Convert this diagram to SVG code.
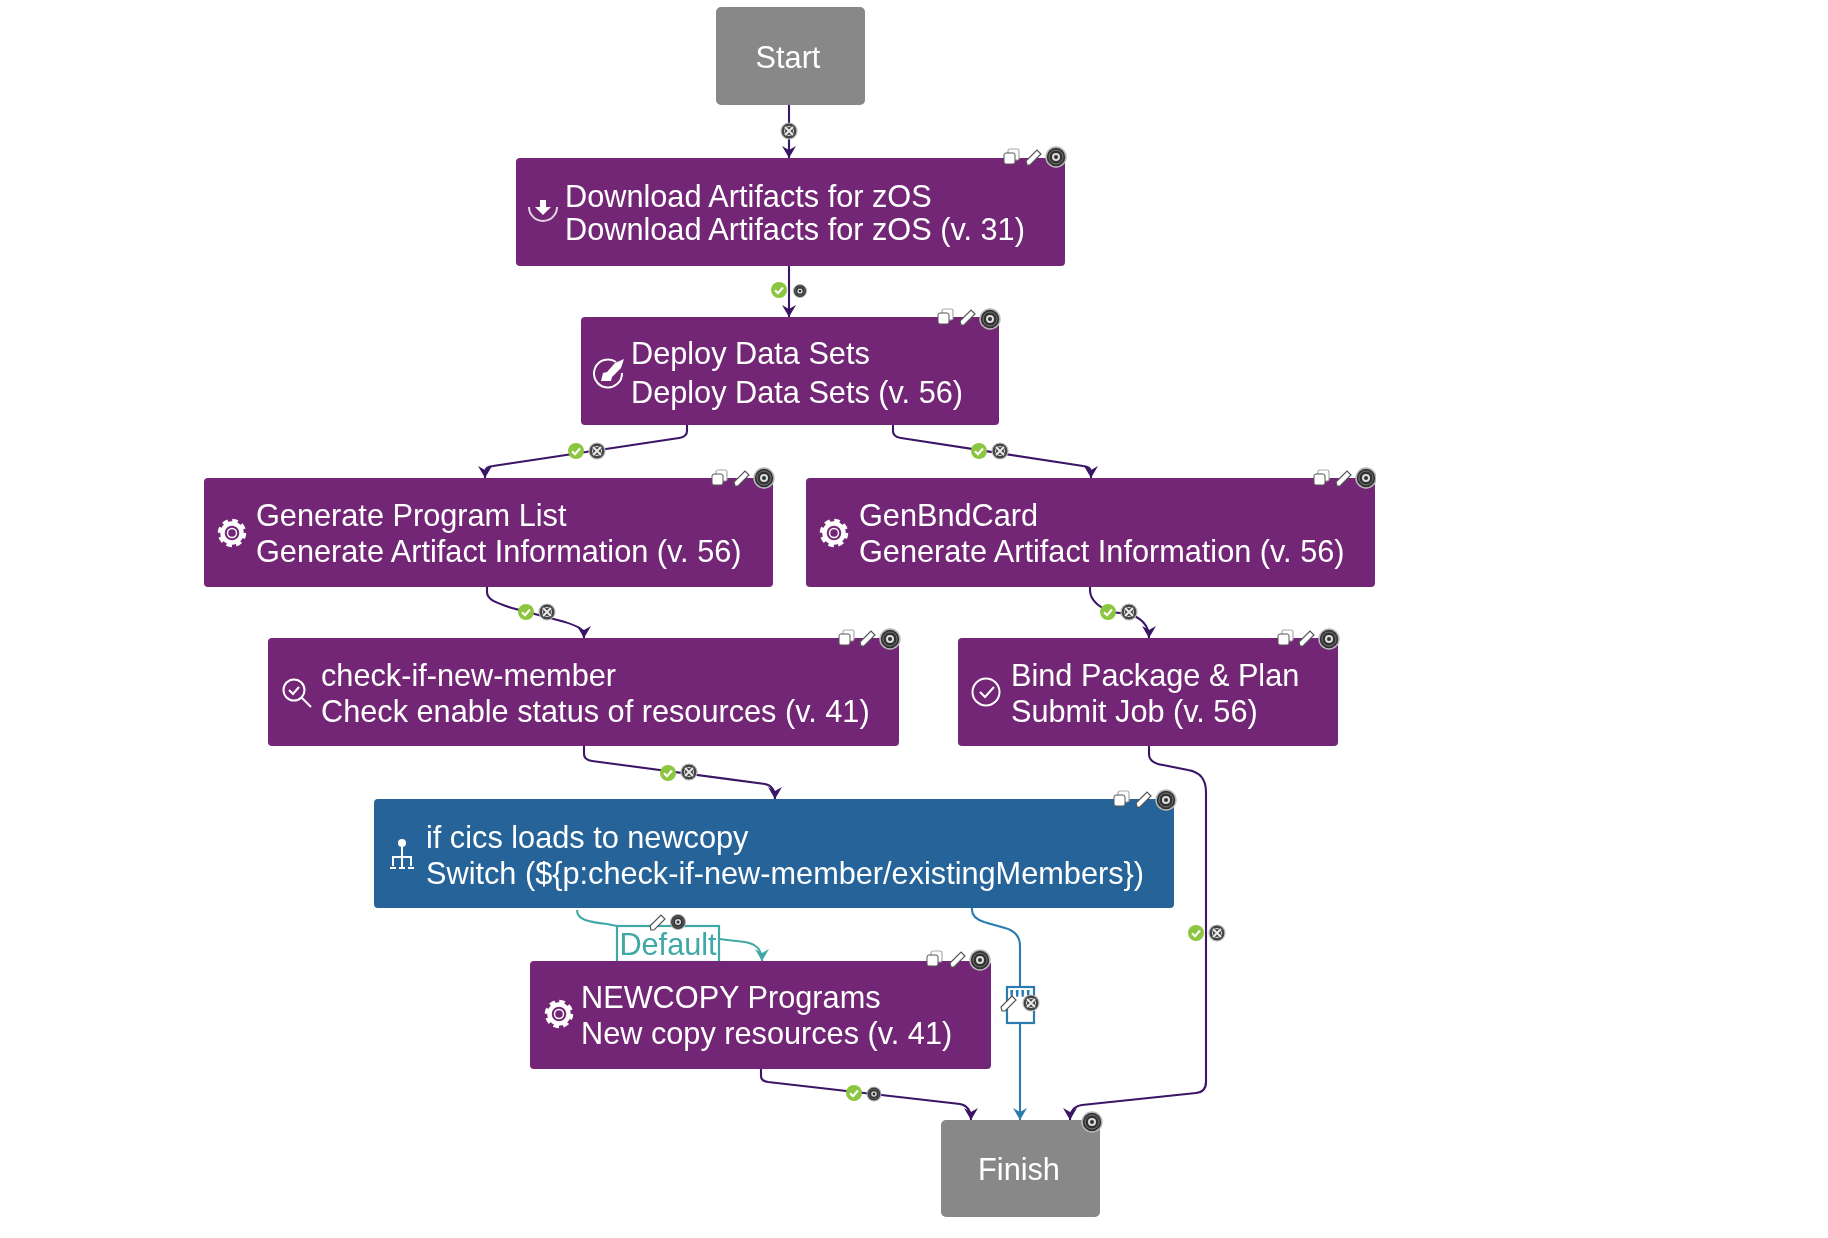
<svg xmlns="http://www.w3.org/2000/svg" width="1828" height="1238" viewBox="0 0 1828 1238">
<style>
text{font-family:"Liberation Sans",Arial,sans-serif;font-size:30.700px;fill:#fff}
.p{fill:#732775}.b{fill:#256398}.g{fill:#888}
.c{fill:none;stroke:#3a1566;stroke-width:2.1;marker-end:url(#ap)}
.cb{fill:none;stroke:#2c7bb0;stroke-width:2.1}
.ct{fill:none;stroke:#3fa9a5;stroke-width:2.1}
.lb{fill:#fff;stroke-width:2.2}
.ic{fill:none;stroke:#fff;stroke-width:2}
</style>
<defs>
<filter id="soft" x="0" y="0" width="1" height="1"><feGaussianBlur stdDeviation="0.55"/></filter>
<marker id="ap" markerUnits="userSpaceOnUse" markerWidth="16" markerHeight="18" refX="13" refY="9" orient="auto"><path d="M1 2L13 9L1 16L5 9Z" fill="#3a1566"/></marker>
<marker id="ab" markerUnits="userSpaceOnUse" markerWidth="16" markerHeight="18" refX="13" refY="9" orient="auto"><path d="M1 2L13 9L1 16L5 9Z" fill="#2c7bb0"/></marker>
<marker id="at" markerUnits="userSpaceOnUse" markerWidth="16" markerHeight="18" refX="13" refY="9" orient="auto"><path d="M1 2L13 9L1 16L5 9Z" fill="#3fa9a5"/></marker>
<symbol id="del" overflow="visible"><circle r="10" fill="#333" stroke="#bbb" stroke-width="1.500"/><circle r="7" fill="none" stroke="#777" stroke-width="1"/><circle r="4" fill="#ddd"/><circle r="2" fill="#333"/></symbol>
<symbol id="delx" overflow="visible"><circle r="8" fill="#444" stroke="#bbb" stroke-width="1.200"/><path d="M-4-4L4 4M4-4L-4 4" stroke="#eee" stroke-width="1.800"/><circle r="4.500" fill="none" stroke="#ddd" stroke-width="1"/></symbol>
<symbol id="ok" overflow="visible"><circle r="8" fill="#8cc63f"/><path d="M-4 0.300L-1 3.200L4-2.500" fill="none" stroke="#fff" stroke-width="2.200"/></symbol>
<symbol id="copy" overflow="visible"><rect x="-3" y="-8" width="11" height="11" rx="2" fill="#fff" stroke="#aaa" stroke-width="1.200"/><rect x="-7" y="-4" width="11" height="11" rx="2" fill="#fff" stroke="#555" stroke-width="1"/></symbol>
<symbol id="pen" overflow="visible"><path d="M-7 8L-8 4L3-7L7-3L-4 8Z" fill="#fff" stroke="#555" stroke-width="1.200"/></symbol>
<symbol id="gear" overflow="visible"><circle r="9.500" fill="none" stroke="#fff" stroke-width="4.500"/><circle r="12.500" fill="none" stroke="#fff" stroke-width="3.500" stroke-dasharray="5.500 4.300"/><circle r="4.500" fill="none" stroke="#fff" stroke-width="1.500"/></symbol>
</defs>
<rect width="1828" height="1238" fill="#fff"/>
<g filter="url(#soft)">
<g id="connectors">
<path class="c" d="M789 105V158"/>
<path class="c" d="M789 266V317"/>
<path class="c" d="M687 425v6q0 6-8 7L493 466q-8 1-8 6v6"/>
<path class="c" d="M893 425v6q0 6 8 7L1083 466q8 1 8 6v6"/>
<path class="c" d="M487 586v6c0 8 10 11 25 16L565 622c12 4 19 6 19 16"/>
<path class="c" d="M1090 586v4c0 12 12 18 20 22L1130 614c10 4 19 10 19 24"/>
<path class="c" d="M584 746v8q0 6 8 7L765 784q10 2 10 15"/>
<path class="c" d="M1149 746v8q0 9 14 11L1188 770q18 3 18 22V1082q0 10-10 11L1082 1105q-12 2-12 15"/>
<path class="c" d="M761 1069v7q0 5 7 6L960 1104q11 2 11 16"/>
<path class="cb" marker-end="url(#ab)" d="M972 907v3q0 8 12 12L1005 928q15 4 15 18V1120"/>
<path class="ct" d="M577 910c0 10 12 12 30 14L617 926"/>
<path class="ct" marker-end="url(#at)" d="M719 939L745 942c12 2 17 8 17 19"/>
</g>
<g id="connector-labels">
<rect class="lb" x="617" y="926" width="102" height="36" stroke="#3fa9a5"/>
<text x="668" y="955" text-anchor="middle" style="fill:#3fa9a5">Default</text>
<rect class="lb" x="1007" y="987" width="27" height="36" stroke="#2c7bb0"/>
<text x="1020" y="1012" text-anchor="middle" style="fill:#2c7bb0">""</text>
</g>
<g id="start"><rect class="g" x="716" y="7" width="149" height="98" rx="5"/><text x="788" y="68" text-anchor="middle">Start</text></g>
<g id="download"><rect class="p" x="516" y="158" width="549" height="108" rx="4"/>
<path class="ic" d="M529 207a14 14 0 0 0 28 0" opacity=".8"/><path d="M540 200h6v7h5l-8 8l-8-8h5Z" fill="#fff"/>
<text x="565" y="207">Download Artifacts for zOS</text><text x="565" y="240">Download Artifacts for zOS (v. 31)</text>
<use href="#copy" x="1011" y="157"/><use href="#pen" x="1034" y="157"/><use href="#del" x="1056" y="157"/></g>
<g id="deploy"><rect class="p" x="581" y="317" width="418" height="108" rx="4"/>
<path class="ic" d="M616 362a14 14 0 1 0 6 11"/><path d="M601 381l2-8l4-1l8-9l9-4l-3 9l-9 9l-1 4Z" fill="#fff"/>
<text x="631" y="364">Deploy Data Sets</text><text x="631" y="403">Deploy Data Sets (v. 56)</text>
<use href="#copy" x="945" y="317"/><use href="#pen" x="968" y="317"/><use href="#del" x="990" y="319"/></g>
<g id="generate-program-list"><rect class="p" x="204" y="478" width="569" height="109" rx="4"/>
<use href="#gear" x="232" y="533"/>
<text x="256" y="526">Generate Program List</text><text x="256" y="562">Generate Artifact Information (v. 56)</text>
<use href="#copy" x="719" y="478"/><use href="#pen" x="742" y="478"/><use href="#del" x="764" y="478"/></g>
<g id="genbndcard"><rect class="p" x="806" y="478" width="569" height="109" rx="4"/>
<use href="#gear" x="834" y="533"/>
<text x="859" y="526">GenBndCard</text><text x="859" y="562">Generate Artifact Information (v. 56)</text>
<use href="#copy" x="1321" y="478"/><use href="#pen" x="1344" y="478"/><use href="#del" x="1366" y="478"/></g>
<g id="check-if-new-member"><rect class="p" x="268" y="638" width="631" height="108" rx="4"/>
<circle class="ic" cx="294" cy="690" r="10.500"/><path class="ic" d="M289 690l4 4l6-7M302 698l9 9"/>
<text x="321" y="686">check-if-new-member</text><text x="321" y="722">Check enable status of resources (v. 41)</text>
<use href="#copy" x="846" y="638"/><use href="#pen" x="868" y="638"/><use href="#del" x="890" y="639"/></g>
<g id="bind-package"><rect class="p" x="958" y="638" width="380" height="108" rx="4"/>
<circle class="ic" cx="986" cy="692" r="13.500"/><path class="ic" d="M980 692l5 5l9-10"/>
<text x="1011" y="686">Bind Package &amp; Plan</text><text x="1011" y="722">Submit Job (v. 56)</text>
<use href="#copy" x="1285" y="638"/><use href="#pen" x="1307" y="638"/><use href="#del" x="1329" y="639"/></g>
<g id="switch"><rect class="b" x="374" y="799" width="800" height="109" rx="4"/>
<circle cx="402" cy="843" r="4" fill="#fff"/><path class="ic" d="M402 847V868M393 866V857H411V866"/><path class="ic" d="M390 868h6M399 868h6M408 868h6"/>
<text x="426" y="848">if cics loads to newcopy</text><text x="426" y="884">Switch (${p:check-if-new-member/existingMembers})</text>
<use href="#copy" x="1121" y="799"/><use href="#pen" x="1144" y="799"/><use href="#del" x="1166" y="800"/></g>
<g id="newcopy"><rect class="p" x="530" y="961" width="461" height="108" rx="4"/>
<use href="#gear" x="559" y="1014"/>
<text x="581" y="1008">NEWCOPY Programs</text><text x="581" y="1044">New copy resources (v. 41)</text>
<use href="#copy" x="934" y="959"/><use href="#pen" x="958" y="959"/><use href="#del" x="980" y="960"/></g>
<g id="finish"><rect class="g" x="941" y="1120" width="159" height="97" rx="5"/><text x="1019" y="1180" text-anchor="middle">Finish</text>
<use href="#del" x="1092" y="1122"/></g>
<g id="connector-controls">
<use href="#delx" x="789" y="131"/>
<use href="#ok" x="779" y="290"/><use href="#del" transform="translate(800 291) scale(.65)"/>
<use href="#ok" x="576" y="451"/><use href="#delx" x="597" y="451"/>
<use href="#ok" x="979" y="451"/><use href="#delx" x="1000" y="451"/>
<use href="#ok" x="526" y="612"/><use href="#delx" x="547" y="612"/>
<use href="#ok" x="1108" y="612"/><use href="#delx" x="1129" y="612"/>
<use href="#ok" x="668" y="773"/><use href="#delx" x="689" y="772"/>
<use href="#ok" x="1196" y="933"/><use href="#delx" x="1217" y="933"/>
<use href="#ok" x="854" y="1093"/><use href="#del" transform="translate(874 1094) scale(.7)"/>
<use href="#pen" x="658" y="922"/><use href="#del" transform="translate(678 922) scale(.75)"/>
<use href="#pen" x="1009" y="1003"/><use href="#delx" x="1031" y="1003"/>
</g>
</g>
</svg>
